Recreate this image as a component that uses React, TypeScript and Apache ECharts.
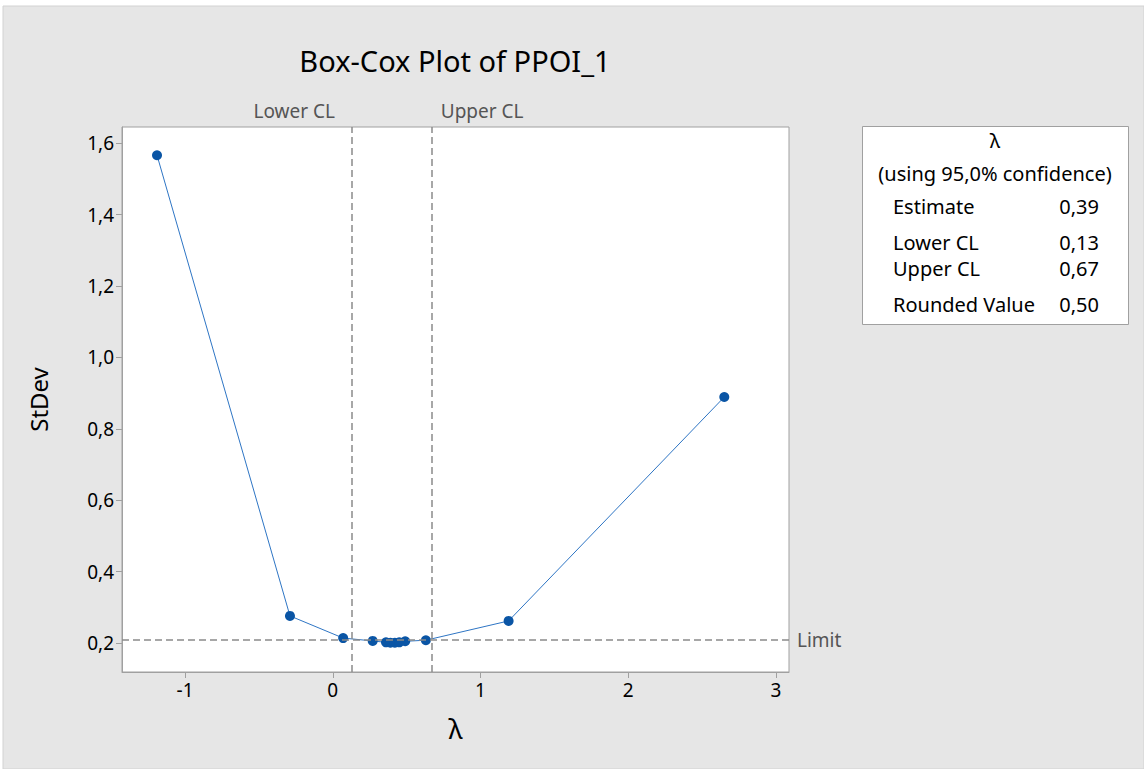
import React, { useEffect, useRef } from 'react';
import * as echarts from 'echarts';

const titleText = 'Box-Cox Plot of PPOI_1';
const xAxisName = 'λ';
const yAxisName = 'StDev';
const lambdas = [-1.19, -0.29, 0.07, 0.27, 0.36, 0.39, 0.42, 0.45, 0.49, 0.63, 1.19, 2.65];
const stdevs = [1.566, 0.276, 0.214, 0.206, 0.202, 0.201, 0.201, 0.202, 0.205, 0.208, 0.262, 0.889];
const xTicks = [-1, 0, 1, 2, 3];
const yTicks = [0.2, 0.4, 0.6, 0.8, 1.0, 1.2, 1.4, 1.6];
const lowerCL = 0.13;
const upperCL = 0.67;
const limitValue = 0.214;
const tableHeader = ['λ', '(using 95,0% confidence)'];
const tableLabels = ['Estimate', 'Lower CL', 'Upper CL', 'Rounded Value'];
const tableValues = ['0,39', '0,13', '0,67', '0,50'];

const FONT = 'Noto Sans';
const fmtX = (v: number) => String(Math.round(v));
const fmtY = (v: number) => v.toFixed(1).replace('.', ',');

export default function App() {
  const ref = useRef<HTMLDivElement>(null);
  useEffect(() => {
    if (!ref.current) return;
    const chart = echarts.init(ref.current, undefined, { renderer: 'svg' });
    const data = lambdas.map((l, i) => [l, stdevs[i]]);
    chart.setOption({
      animation: false,
      backgroundColor: '#ffffff',
      grid: {
        left: 122, right: 355, top: 127, bottom: 97,
        show: true, backgroundColor: '#ffffff', borderColor: '#a0a0a0', borderWidth: 1,
      },
      xAxis: {
        type: 'value', min: -1.427, max: 3.088,
        name: xAxisName, nameLocation: 'middle', nameGap: 43,
        nameTextStyle: { fontFamily: FONT, fontSize: 27, color: '#000' },
        axisLine: { show: true, onZero: false, lineStyle: { color: '#a0a0a0' } },
        axisTick: { show: true, length: 6, customValues: xTicks, lineStyle: { color: '#a0a0a0' } },
        axisLabel: { customValues: xTicks, formatter: (v: number) => fmtX(v), fontFamily: FONT, fontSize: 19, color: '#000', margin: 8 },
        splitLine: { show: false },
      },
      yAxis: {
        type: 'value', min: 0.119, max: 1.645,
        name: yAxisName, nameLocation: 'middle', nameGap: 72,
        nameTextStyle: { fontFamily: FONT, fontSize: 24, color: '#000' },
        axisLine: { show: true, onZero: false, lineStyle: { color: '#a0a0a0' } },
        axisTick: { show: true, length: 6, customValues: yTicks, lineStyle: { color: '#a0a0a0' } },
        axisLabel: { customValues: yTicks, formatter: (v: number) => fmtY(v), fontFamily: FONT, fontSize: 19, color: '#000', margin: 8 },
        splitLine: { show: false },
      },
      series: [{
        type: 'line', data,
        symbol: 'circle', symbolSize: 10,
        lineStyle: { color: '#2e75c4', width: 1 },
        itemStyle: { color: '#0a55a5' },
        markLine: {
          silent: true, symbol: 'none',
          lineStyle: { color: '#8a8a8a', type: [7, 4], width: 1.5 },
          label: { show: false },
          data: [
            { xAxis: lowerCL },
            { xAxis: upperCL },
            { yAxis: limitValue, label: { show: true, position: 'end', formatter: 'Limit', fontFamily: FONT, fontSize: 19, color: '#555', distance: 8 } },
          ],
        },
      }],
    });
    const lx = chart.convertToPixel({ xAxisIndex: 0 }, lowerCL) as number;
    const ux = chart.convertToPixel({ xAxisIndex: 0 }, upperCL) as number;
    const rowY = [206, 242, 268, 304];
    chart.setOption({
      graphic: [
        { type: 'rect', id: 'bg', z: -10, silent: true, shape: { x: 3, y: 6, width: 1141, height: 763 }, style: { fill: '#e6e6e6', stroke: '#d2d2d2' } },
        { type: 'text', id: 'title', style: { text: titleText, x: 455, y: 60, align: 'center', verticalAlign: 'middle', fontFamily: FONT, fontSize: 29, fill: '#000' } },
        { type: 'text', id: 'lcl', style: { text: 'Lower CL', x: lx - 17, y: 111, align: 'right', verticalAlign: 'middle', fontFamily: FONT, fontSize: 19, fill: '#555' } },
        { type: 'text', id: 'ucl', style: { text: 'Upper CL', x: ux + 9, y: 111, align: 'left', verticalAlign: 'middle', fontFamily: FONT, fontSize: 19, fill: '#555' } },
        { type: 'rect', id: 'tbox', shape: { x: 862.5, y: 126.5, width: 266, height: 198 }, style: { fill: '#ffffff', stroke: '#a0a0a0', lineWidth: 1 } },
        { type: 'text', id: 'th0', style: { text: tableHeader[0], x: 995, y: 140, align: 'center', verticalAlign: 'middle', fontFamily: FONT, fontSize: 20, fill: '#000' } },
        { type: 'text', id: 'th1', style: { text: tableHeader[1], x: 995, y: 173, align: 'center', verticalAlign: 'middle', fontFamily: FONT, fontSize: 20, fill: '#000' } },
        ...tableLabels.map((t, i) => ({ type: 'text', id: 'tl' + i, style: { text: t, x: 893, y: rowY[i], align: 'left', verticalAlign: 'middle', fontFamily: FONT, fontSize: 20, fill: '#000' } })),
        ...tableValues.map((t, i) => ({ type: 'text', id: 'tv' + i, style: { text: t, x: 1099, y: rowY[i], align: 'right', verticalAlign: 'middle', fontFamily: FONT, fontSize: 20, fill: '#000' } })),
      ],
    });
    return () => chart.dispose();
  }, []);
  return <div ref={ref} style={{ position: 'fixed', left: 0, top: 0, width: 1144, height: 769 }} />;
}
